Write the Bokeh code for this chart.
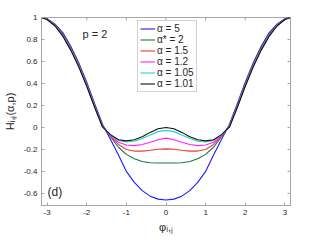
import math
from bokeh.plotting import figure
from bokeh.models import (Range1d, FixedTicker, CustomJSTickFormatter,
                          Legend, LegendItem, Label)
from bokeh.embed import file_html
from bokeh.resources import INLINE

# ---- data ----
PHI = [-3.1416, -3.0, -2.8, -2.6, -2.4, -2.2, -2.0, -1.8, -1.6, -1.4, -1.2, -1.0,
       -0.8, -0.6, -0.4, -0.2, 0.0, 0.2, 0.4, 0.6, 0.8, 1.0, 1.2, 1.4, 1.6, 1.8,
       2.0, 2.2, 2.4, 2.6, 2.8, 3.0, 3.1416]

H_A5 = [1.0, 0.988, 0.94, 0.86, 0.737, 0.587, 0.412, 0.217, 0.027, -0.11, -0.25, -0.40,
        -0.50, -0.575, -0.625, -0.652, -0.66, -0.652, -0.625, -0.575, -0.50, -0.40,
        -0.25, -0.11, 0.027, 0.217, 0.412, 0.587, 0.737, 0.86, 0.94, 0.988, 1.0]
H_A2 = [1.0, 0.987, 0.935, 0.85, 0.726, 0.576, 0.401, 0.205, 0.02, -0.085, -0.18, -0.245,
        -0.285, -0.31, -0.321, -0.324, -0.324, -0.324, -0.321, -0.31, -0.285, -0.245,
        -0.18, -0.085, 0.02, 0.205, 0.401, 0.576, 0.726, 0.85, 0.935, 0.987, 1.0]
H_A15 = [1.0, 0.985, 0.93, 0.84, 0.715, 0.565, 0.39, 0.195, 0.012, -0.08, -0.155, -0.20,
         -0.215, -0.215, -0.207, -0.198, -0.195, -0.198, -0.207, -0.215, -0.215, -0.20,
         -0.155, -0.08, 0.012, 0.195, 0.39, 0.565, 0.715, 0.84, 0.93, 0.985, 1.0]
H_A12 = [1.0, 0.984, 0.927, 0.835, 0.709, 0.559, 0.384, 0.19, 0.008, -0.075, -0.135, -0.16,
         -0.165, -0.155, -0.135, -0.112, -0.097, -0.112, -0.135, -0.155, -0.165, -0.16,
         -0.135, -0.075, 0.008, 0.19, 0.384, 0.559, 0.709, 0.835, 0.927, 0.984, 1.0]
H_A105 = [1.0, 0.983, 0.925, 0.831, 0.704, 0.554, 0.379, 0.185, 0.005, -0.068, -0.118, -0.132,
          -0.125, -0.10, -0.068, -0.038, -0.027, -0.038, -0.068, -0.10, -0.125, -0.132,
          -0.118, -0.068, 0.005, 0.185, 0.379, 0.554, 0.704, 0.831, 0.925, 0.983, 1.0]
H_A101 = [1.0, 0.982, 0.923, 0.828, 0.701, 0.55, 0.375, 0.181, 0.002, -0.065, -0.112, -0.122,
          -0.112, -0.085, -0.045, -0.012, 0.0, -0.012, -0.045, -0.085, -0.112, -0.122,
          -0.112, -0.065, 0.002, 0.181, 0.375, 0.55, 0.701, 0.828, 0.923, 0.982, 1.0]

SERIES_LABELS = ["α = 5", "α* = 2", "α = 1.5", "α = 1.2", "α = 1.05", "α = 1.01"]
SERIES_COLORS = ["#1a1aff", "#17783f", "#f03a3a", "#ff20ff", "#20d2d2", "#101010"]

X_TICKS = [-3, -2, -1, 0, 1, 2, 3]
Y_TICKS = [-0.6, -0.4, -0.2, 0, 0.2, 0.4, 0.6, 0.8, 1]
X_MIN, X_MAX = -3.1416, 3.1416
Y_MIN, Y_MAX = -0.71, 1.0

FONT = "Liberation Sans"
GREY = "#a6a6a6"
TXT = "#262626"

p = figure(width=320, height=240, output_backend="svg", toolbar_location=None,
           x_range=Range1d(X_MIN, X_MAX), y_range=Range1d(Y_MIN, Y_MAX),
           min_border_left=41, min_border_right=30, min_border_top=17,
           min_border_bottom=35)
p.grid.visible = False
p.outline_line_color = GREY
p.background_fill_color = "white"
p.border_fill_color = "white"

fmt = CustomJSTickFormatter(code="return String(tick);")
for ax, ticks in ((p.xaxis[0], X_TICKS), (p.yaxis[0], Y_TICKS)):
    ax.ticker = FixedTicker(ticks=ticks)
    ax.formatter = fmt
    ax.axis_line_color = GREY
    ax.major_tick_line_color = GREY
    ax.major_tick_in = 3
    ax.major_tick_out = 0
    ax.minor_tick_line_color = None
    ax.major_label_text_font = FONT
    ax.major_label_text_font_size = "8px"
    ax.major_label_text_color = TXT
    ax.major_label_standoff = 4
    ax.axis_label_text_font = FONT
    ax.axis_label_text_font_size = "11px"
    ax.axis_label_text_color = TXT
    ax.axis_label_text_font_style = "normal"

p.yaxis[0].axis_label = "Hᵢ,ⱼ(α,p)"
p.yaxis[0].axis_label_standoff = 5
p.xaxis[0].axis_label = "φᵢ,ⱼ"
p.xaxis[0].axis_label_standoff = 3

# inward ticks on the top and right edges of the box
p.scatter(X_TICKS, [Y_MAX] * len(X_TICKS), marker="dash", size=6, angle=math.pi / 2,
          line_color=GREY, line_width=1)
p.scatter([X_MAX] * len(Y_TICKS), Y_TICKS, marker="dash", size=6,
          line_color=GREY, line_width=1)

items = []
for ys, lab, col in zip([H_A5, H_A2, H_A15, H_A12, H_A105, H_A101], SERIES_LABELS, SERIES_COLORS):
    r = p.line(PHI, ys, line_color=col, line_width=1.1)
    items.append(LegendItem(label=lab, renderers=[r]))

leg = Legend(items=items, location=(96, 113), orientation="vertical",
             label_text_font=FONT, label_text_font_size="10px", label_text_color=TXT,
             glyph_width=15, glyph_height=11, label_height=11, label_standoff=2,
             spacing=0, padding=2, margin=0,
             border_line_color=GREY, border_line_width=1, background_fill_color="white",
             background_fill_alpha=1.0)
p.add_layout(leg, "center")

def lab(text, x, y, size):
    p.add_layout(Label(x=x, y=y, x_units="screen", y_units="screen", text=text,
                       text_font=FONT, text_font_size=size, text_color=TXT,
                       text_align="left", text_baseline="alphabetic"))

lab("p = 2", 41, 172, "11px")
lab("(d)", 6, 14, "12px")

open("out.html", "w").write(file_html(p, INLINE))
